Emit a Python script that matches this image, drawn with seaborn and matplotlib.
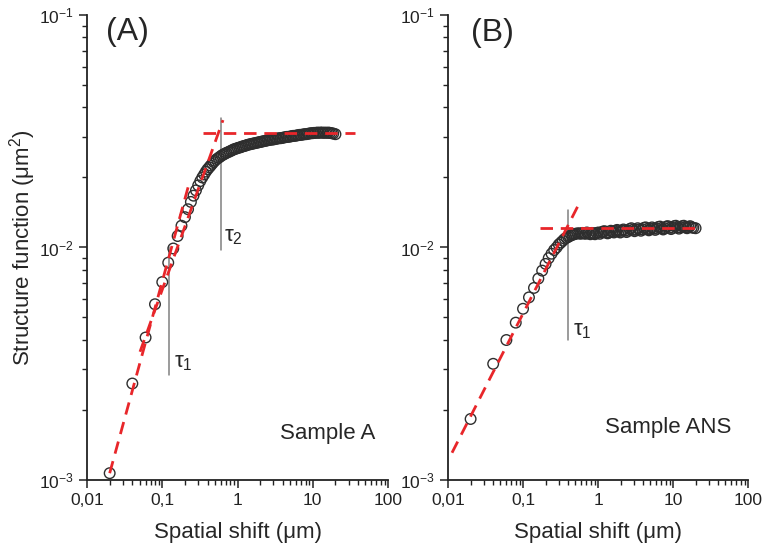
#!/usr/bin/env python3

import numpy as np
import matplotlib
matplotlib.use("Agg")
import matplotlib.pyplot as plt
import matplotlib.ticker as mticker
import seaborn as sns

# spatial shift grid (um), shared by both samples
shift = [0.02, 0.04, 0.06, 0.08, 0.10, 0.12, 0.14, 0.16, 0.18, 0.20,
         0.22, 0.24, 0.26, 0.28, 0.30, 0.32, 0.34, 0.36, 0.38, 0.40,
         0.42, 0.44, 0.46, 0.48,
         0.50, 0.53, 0.56, 0.59, 0.62, 0.65, 0.68, 0.71, 0.75, 0.79,
         0.83, 0.87, 0.91, 0.96, 1.01, 1.06, 1.11, 1.16, 1.22, 1.28,
         1.34, 1.41, 1.48, 1.55, 1.63, 1.71, 1.80, 1.89, 1.98, 2.08,
         2.18, 2.29, 2.40, 2.52, 2.65, 2.78, 2.92, 3.07, 3.22, 3.38,
         3.55, 3.73, 3.92, 4.11, 4.32, 4.53, 4.76, 5.00, 5.25, 5.51,
         5.79, 6.08, 6.38, 6.70, 7.03, 7.39, 7.76, 8.14, 8.55, 8.98,
         9.43, 9.90, 10.4, 10.9, 11.5, 12.0, 12.6, 13.3, 13.9, 14.6,
         15.4, 16.1, 16.9, 17.8, 18.7, 20.0]

# structure function, sample A (in 1e-3 um^2)
sf_a = [1.07, 2.6, 4.1, 5.7, 7.1, 8.6, 9.9, 11.2, 12.4, 13.5,
        14.6, 15.7, 16.7, 17.6, 18.5, 19.3, 20.0, 20.6, 21.2, 21.7,
        22.1, 22.5, 22.9, 23.3,
        23.6, 24.0, 24.3, 24.6, 24.9, 25.1, 25.3, 25.5, 25.7, 25.9,
        26.1, 26.3, 26.5, 26.6, 26.8, 26.9, 27.0, 27.2, 27.3, 27.4,
        27.6, 27.7, 27.8, 27.9, 28.0, 28.1, 28.2, 28.3, 28.4, 28.5,
        28.6, 28.7, 28.8, 28.9, 29.0, 29.1, 29.1, 29.2, 29.3, 29.4,
        29.5, 29.5, 29.6, 29.7, 29.8, 29.9, 29.9, 30.0, 30.1, 30.2,
        30.2, 30.3, 30.4, 30.5, 30.5, 30.6, 30.7, 30.7, 30.8, 30.9,
        31.0, 31.0, 31.1, 31.1, 31.2, 31.1, 31.2, 31.2, 31.1, 31.2,
        31.1, 31.2, 31.1, 31.0, 30.9, 30.7]

# structure function, sample ANS (in 1e-3 um^2)
sf_ans = [1.83, 3.16, 4.0, 4.75, 5.45, 6.1, 6.7, 7.35, 7.95, 8.5,
          9.0, 9.4, 9.75, 10.0, 10.3, 10.5, 10.7, 10.9, 11.0, 11.1,
          11.2, 11.3, 11.35, 11.4,
          11.45, 11.5, 11.5, 11.45, 11.55, 11.5, 11.45, 11.6, 11.5, 11.4,
          11.55, 11.5, 11.4, 11.55, 11.6, 11.45, 11.6, 11.7, 11.75, 11.6,
          11.5, 11.6, 11.8, 11.7, 11.6, 11.8, 11.9, 11.75, 11.6, 11.8,
          11.95, 11.8, 11.65, 11.8, 12.0, 12.1, 11.9, 11.75, 11.9, 12.1,
          11.95, 11.8, 11.95, 12.15, 12.2, 12.0, 11.85, 12.0, 12.2, 12.05,
          11.9, 12.05, 12.25, 12.3, 12.1, 11.95, 12.1, 12.3, 12.35, 12.15,
          12.0, 12.15, 12.35, 12.4, 12.2, 12.05, 12.2, 12.35, 12.4, 12.2,
          12.1, 12.25, 12.35, 12.2, 12.15, 12.1]

# red dashed guide lines (endpoints, x then y)
fit_a1_x, fit_a1_y = [0.02, 0.234], [1.07e-3, 1.95e-2]
fit_a2_x, fit_a2_y = [0.0506, 0.641], [3.56e-3, 3.53e-2]
plat_a_x, plat_a_y = [0.35, 36], [3.1e-2, 3.1e-2]
fit_b_x, fit_b_y = [0.0113, 0.575], [1.31e-3, 1.57e-2]
plat_b_x, plat_b_y = [0.169, 21], [1.21e-2, 1.21e-2]

# vertical tau markers
tau_a1_x, tau_a1_y = 0.123, [2.83e-3, 1.0e-2]
tau_a2_x, tau_a2_y = 0.60, [9.8e-3, 3.6e-2]
tau_b1_x, tau_b1_y = 0.40, [4.0e-3, 1.45e-2]

xtick_vals = [0.01, 0.1, 1, 10, 100]
xtick_labels = ["0,01", "0,1", "1", "10", "100"]

sns.set_style("ticks")
plt.rcParams['font.family'] = ['Liberation Sans', 'DejaVu Sans']
plt.rcParams['mathtext.fontset'] = 'custom'
plt.rcParams['mathtext.rm'] = 'Liberation Sans'
plt.rcParams['mathtext.it'] = 'Liberation Sans:italic'

RED = '#e8262a'
GREY = '#808080'

fig = plt.figure(figsize=(7.66, 5.55), dpi=100)
axA = fig.add_axes([0.1136, 0.1351, 0.393, 0.838])
axB = fig.add_axes([0.5849, 0.1351, 0.3916, 0.838])


def style_axis(ax):
    ax.set_xscale('log')
    ax.set_yscale('log')
    ax.set_xlim(0.01, 100)
    ax.set_ylim(1e-3, 1e-1)
    ax.xaxis.set_major_locator(mticker.FixedLocator(xtick_vals))
    ax.xaxis.set_major_formatter(mticker.FixedFormatter(xtick_labels))
    ax.xaxis.set_minor_locator(mticker.LogLocator(base=10, subs=np.arange(2, 10)))
    ax.xaxis.set_minor_formatter(mticker.NullFormatter())
    ax.yaxis.set_major_locator(mticker.LogLocator(base=10))
    ax.yaxis.set_minor_locator(mticker.LogLocator(base=10, subs=np.arange(2, 10)))
    ax.yaxis.set_minor_formatter(mticker.NullFormatter())
    ax.tick_params(which='major', direction='out', length=6, width=1.1,
                   labelsize=12.5, colors='#222222')
    ax.tick_params(which='minor', direction='out', length=3.5, width=1.0, colors='#222222')
    for s in ['top', 'right']:
        ax.spines[s].set_visible(False)
    for s in ['left', 'bottom']:
        ax.spines[s].set_linewidth(1.3)
        ax.spines[s].set_color('#222222')
    ax.set_xlabel("Spatial shift (μm)", fontsize=16, labelpad=10)


def dashed(ax, x, y):
    ax.plot(x, y, color=RED, lw=2.0, dashes=(4.5, 2.8), zorder=4)


for ax, sf in [(axA, sf_a), (axB, sf_ans)]:
    sns.scatterplot(x=shift, y=np.array(sf) * 1e-3, ax=ax, marker='o', s=58,
                    facecolor='none', edgecolor='#2e2e2e', linewidth=1.0, zorder=3)
    style_axis(ax)

# panel A
dashed(axA, fit_a1_x, fit_a1_y)
dashed(axA, fit_a2_x, fit_a2_y)
dashed(axA, plat_a_x, plat_a_y)
axA.plot([tau_a1_x, tau_a1_x], tau_a1_y, color=GREY, lw=1.1, zorder=2)
axA.plot([tau_a2_x, tau_a2_x], tau_a2_y, color=GREY, lw=1.1, zorder=2)
axA.text(0.145, 3.2e-3, "τ$_1$", fontsize=16, va='center', ha='left')
axA.text(0.66, 1.12e-2, "τ$_2$", fontsize=16, va='center', ha='left')
axA.text(0.80, 0.10, "Sample A", transform=axA.transAxes, fontsize=16,
         ha='center', va='center')
axA.text(0.135, 0.963, "(A)", transform=axA.transAxes, fontsize=23,
         ha='center', va='center')
axA.set_ylabel("Structure function (μm$^2$)", fontsize=16, labelpad=1)

# panel B
dashed(axB, fit_b_x, fit_b_y)
dashed(axB, plat_b_x, plat_b_y)
axB.plot([tau_b1_x, tau_b1_x], tau_b1_y, color=GREY, lw=1.1, zorder=2)
axB.text(0.47, 4.4e-3, "τ$_1$", fontsize=16, va='center', ha='left')
axB.text(0.733, 0.112, "Sample ANS", transform=axB.transAxes, fontsize=16,
         ha='center', va='center')
axB.text(0.147, 0.961, "(B)", transform=axB.transAxes, fontsize=23,
         ha='center', va='center')
axB.set_ylabel("")

fig.savefig("out.png", dpi=100)
